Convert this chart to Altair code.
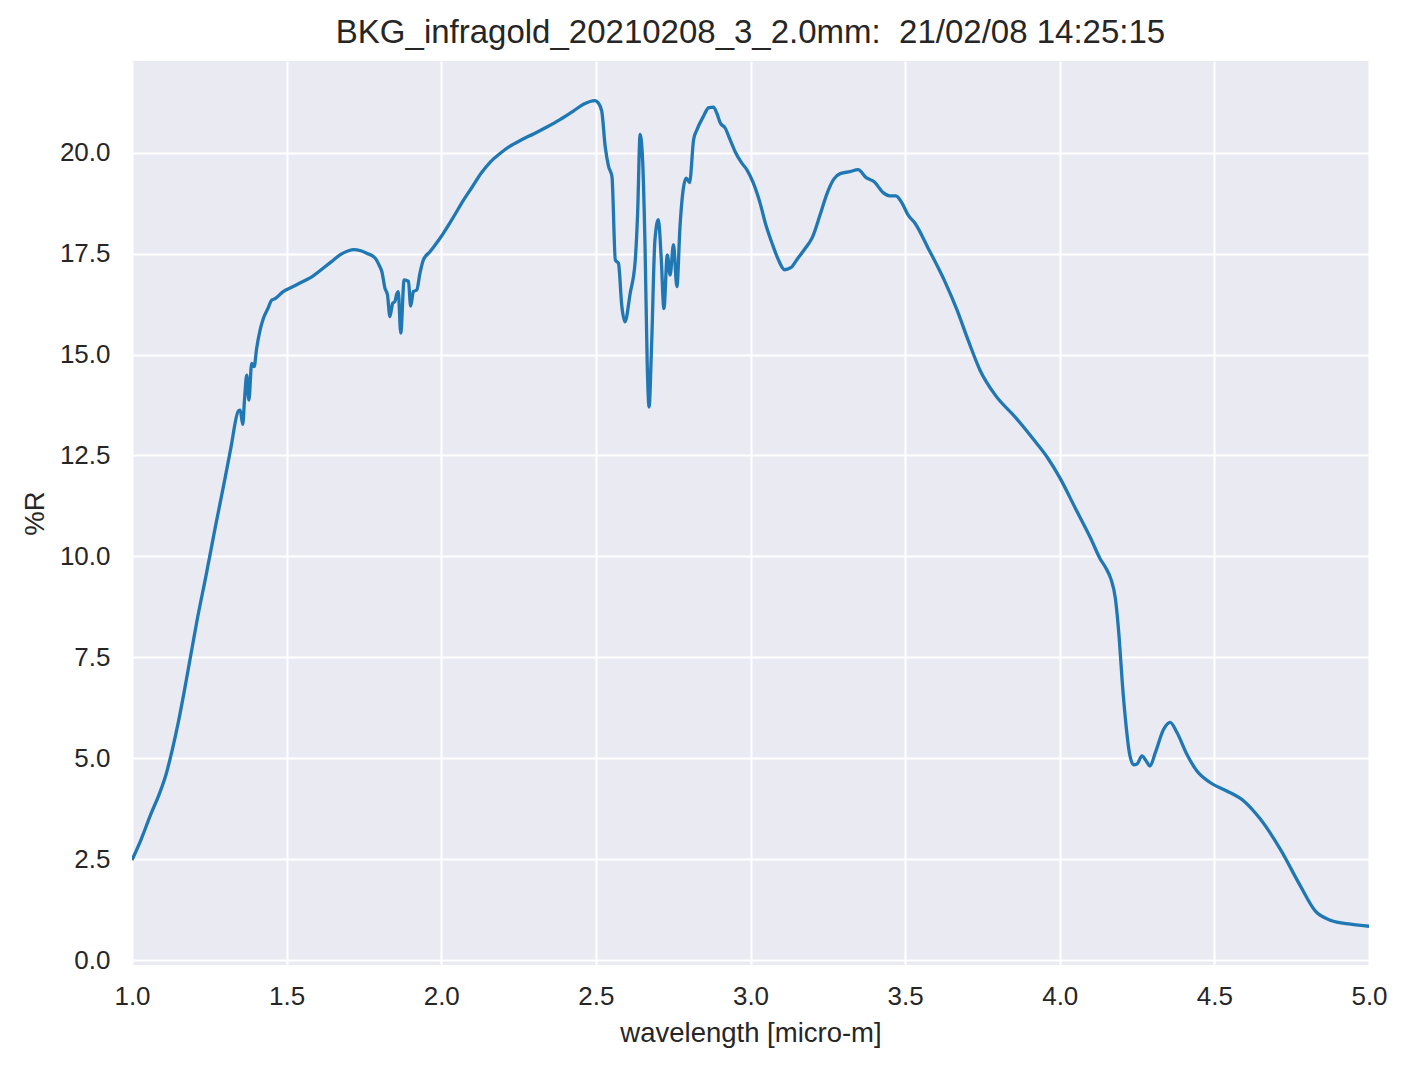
import altair as alt
import pandas as pd

wavelength = [
    1.000, 1.030, 1.060, 1.090, 1.110, 1.130, 1.150, 1.170, 1.190, 1.210,
    1.240, 1.270, 1.300, 1.320, 1.344, 1.350, 1.358, 1.364, 1.371, 1.378,
    1.387, 1.395, 1.403, 1.414, 1.425, 1.440, 1.452, 1.462, 1.489, 1.515,
    1.543, 1.586, 1.620, 1.650, 1.675, 1.700, 1.716, 1.740, 1.759, 1.786,
    1.800, 1.808, 1.818, 1.826, 1.834, 1.843, 1.850, 1.856, 1.861, 1.869,
    1.880, 1.894, 1.901, 1.910, 1.921, 1.931, 1.942, 1.964, 1.996, 2.039,
    2.070, 2.100, 2.130, 2.160, 2.190, 2.220, 2.260, 2.300, 2.340, 2.384,
    2.427, 2.460, 2.497, 2.508, 2.519, 2.530, 2.541, 2.552, 2.563, 2.573,
    2.584, 2.594, 2.611, 2.627, 2.635, 2.643, 2.651, 2.659, 2.666, 2.672,
    2.680, 2.691, 2.702, 2.711, 2.720, 2.731, 2.740, 2.751, 2.762, 2.772,
    2.792, 2.803, 2.816, 2.827, 2.848, 2.864, 2.880, 2.891, 2.902, 2.918,
    2.934, 2.950, 2.972, 2.988, 3.009, 3.031, 3.050, 3.070, 3.090, 3.110,
    3.130, 3.150, 3.176, 3.200, 3.225, 3.248, 3.270, 3.290, 3.322, 3.348,
    3.374, 3.400, 3.429, 3.450, 3.470, 3.490, 3.510, 3.532, 3.574, 3.629,
    3.668, 3.704, 3.743, 3.791, 3.856, 3.920, 3.960, 4.000, 4.050, 4.100,
    4.130, 4.150, 4.165, 4.180, 4.192, 4.202, 4.212, 4.226, 4.239, 4.250,
    4.266, 4.279, 4.292, 4.309, 4.336, 4.357, 4.379, 4.411, 4.443, 4.486,
    4.540, 4.594, 4.648, 4.713, 4.778, 4.826, 4.875, 4.940, 5.000,
]

reflectance = [
    2.48, 3.00, 3.60, 4.15, 4.60, 5.20, 5.90, 6.70, 7.55, 8.40,
    9.55, 10.75, 11.90, 12.70, 13.60, 13.62, 13.27, 13.90, 14.49, 13.87,
    14.78, 14.70, 15.15, 15.60, 15.90, 16.15, 16.35, 16.38, 16.56, 16.66,
    16.77, 16.95, 17.15, 17.33, 17.48, 17.57, 17.60, 17.57, 17.51, 17.39,
    17.20, 17.05, 16.64, 16.48, 15.94, 16.27, 16.31, 16.50, 16.56, 15.53,
    16.85, 16.81, 16.20, 16.56, 16.60, 17.01, 17.34, 17.55, 17.88, 18.40,
    18.80, 19.15, 19.50, 19.78, 19.98, 20.15, 20.32, 20.47, 20.63, 20.82,
    21.03, 21.20, 21.29, 21.23, 21.03, 20.16, 19.66, 19.41, 17.34, 17.26,
    16.19, 15.81, 16.52, 17.30, 18.50, 20.45, 19.83, 17.67, 14.78, 13.70,
    15.19, 17.84, 18.34, 17.43, 16.14, 17.47, 16.97, 17.72, 16.68, 18.17,
    19.37, 19.26, 20.32, 20.57, 20.90, 21.11, 21.13, 20.98, 20.74, 20.61,
    20.32, 20.03, 19.74, 19.58, 19.25, 18.75, 18.20, 17.75, 17.35, 17.10,
    17.15, 17.35, 17.62, 17.90, 18.46, 19.00, 19.35, 19.48, 19.53, 19.58,
    19.38, 19.28, 19.01, 18.93, 18.93, 18.75, 18.45, 18.25, 17.64, 16.80,
    16.10, 15.35, 14.60, 14.00, 13.45, 12.85, 12.45, 11.95, 11.20, 10.45,
    9.95, 9.70, 9.45, 8.95, 8.00, 6.90, 6.00, 5.10, 4.84, 4.86,
    5.06, 4.94, 4.81, 5.14, 5.72, 5.89, 5.64, 5.10, 4.69, 4.40,
    4.19, 3.95, 3.50, 2.75, 1.84, 1.22, 0.99, 0.89, 0.84,
]

x_ticks = [1.0, 1.5, 2.0, 2.5, 3.0, 3.5, 4.0, 4.5, 5.0]
y_ticks = [0.0, 2.5, 5.0, 7.5, 10.0, 12.5, 15.0, 17.5, 20.0]

title_text = "BKG_infragold_20210208_3_2.0mm:\u00a0 21/02/08 14:25:15"

df = pd.DataFrame({"wl": wavelength, "R": reflectance})

FONT = "Liberation Sans"
TXT = "#262626"

chart = (
    alt.Chart(df)
    .mark_line(color="#1f77b4", strokeWidth=3.3, interpolate="monotone", clip=True)
    .encode(
        x=alt.X(
            "wl:Q",
            title="wavelength [micro-m]",
            scale=alt.Scale(domain=[1.0, 5.0], nice=False, zero=False),
            axis=alt.Axis(values=x_ticks, format=".1f", labelPadding=18,
                          titlePadding=10, labelFlush=False),
        ),
        y=alt.Y(
            "R:Q",
            title="%R",
            scale=alt.Scale(domain=[-0.12, 22.27], nice=False, zero=False),
            axis=alt.Axis(values=y_ticks, format=".1f", labelPadding=22,
                          titlePadding=10, labelFlush=False),
        ),
    )
    .properties(
        width=1237,
        height=904,
        title=alt.TitleParams(
            text=title_text,
            fontSize=33,
            font=FONT,
            fontWeight="normal",
            color=TXT,
            anchor="middle",
            offset=11,
        ),
        autosize=alt.AutoSizeParams(type="none"),
        padding={"left": 124, "top": 53, "right": 24, "bottom": 96},
    )
    .configure_view(fill="#EAEAF2", strokeWidth=0)
    .configure_axis(
        domain=False,
        ticks=False,
        tickSize=0,
        grid=True,
        gridColor="#FFFFFF",
        gridWidth=2,
        labelFont=FONT,
        labelFontSize=26,
        labelColor=TXT,
        titleFont=FONT,
        titleFontSize=27.5,
        titleFontWeight="normal",
        titleColor=TXT,
    )
)

chart.save("out.html", embed_options={"renderer": "svg", "actions": False})
